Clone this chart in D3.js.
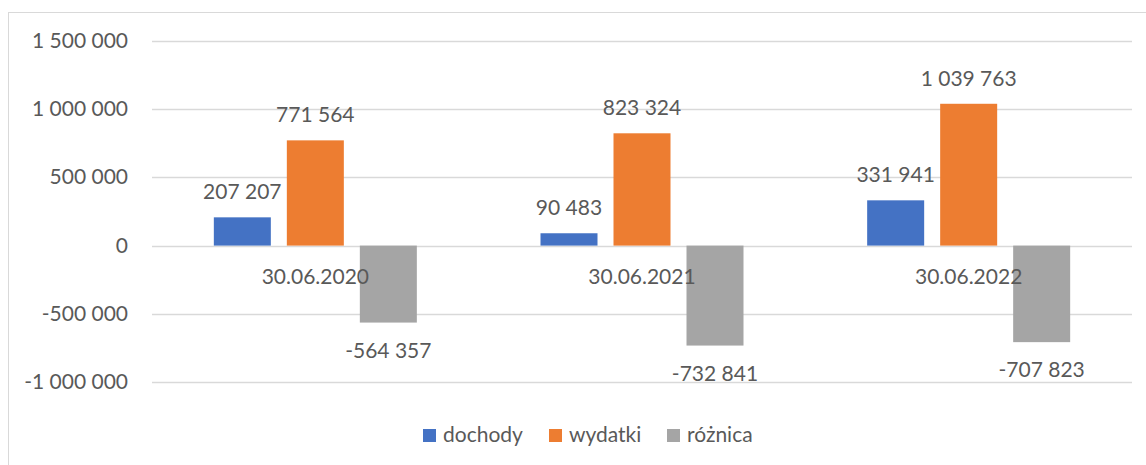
<!DOCTYPE html>
<html>
<head>
<meta charset="utf-8">
<script src="https://cdn.jsdelivr.net/npm/d3@7"></script>
<style>
  html, body { margin: 0; padding: 0; background: #fff; }
  svg { display: block; font-family: Lato, "Open Sans", sans-serif; }
</style>
</head>
<body>
<svg id="chart" width="1146" height="465"></svg>
<script>
const categories = ["30.06.2020", "30.06.2021", "30.06.2022"];
const seriesNames = ["dochody", "wydatki", "różnica"];
const dochody = [207207, 90483, 331941];
const wydatki = [771564, 823324, 1039763];
const roznica = [-564357, -732841, -707823];
const yTicks = [-1000000, -500000, 0, 500000, 1000000, 1500000];
const colors = ["#4472C4", "#ED7D31", "#A5A5A5"];

const seriesValues = [dochody, wydatki, roznica];
const data = categories.map((c, i) => ({
  cat: c,
  vals: seriesNames.map((s, j) => ({ series: s, value: seriesValues[j][i], color: colors[j] }))
}));

const loc = d3.formatLocale({ decimal: ",", thousands: " ", grouping: [3], currency: ["", ""], minus: "-" });
const fmt = loc.format(",d");

const svg = d3.select("#chart");
const textColor = "#595959";
const fontSize = 21;

// Border
svg.append("rect").attr("x", 8.5).attr("y", 12.5).attr("width", 1160).attr("height", 470)
  .attr("fill", "#fff").attr("stroke", "#D9D9D9").attr("stroke-width", 1);

const x0 = d3.scaleBand().domain(categories).range([152, 1132]).padding(0);
const x1 = d3.scaleBand().domain(seriesNames).range([0, x0.bandwidth()])
  .paddingInner(16 / 73).paddingOuter(0.847);
const y = d3.scaleLinear().domain([-1000000, 1500000]).range([382, 41]);

// Gridlines
svg.append("g").selectAll("line").data(yTicks).join("line")
  .attr("x1", 152).attr("x2", 1132)
  .attr("y1", d => Math.round(y(d)) + 0.5).attr("y2", d => Math.round(y(d)) + 0.5)
  .attr("stroke", "#D9D9D9").attr("stroke-width", 1.3);

// Y axis labels
svg.append("g").selectAll("text").data(yTicks).join("text")
  .attr("x", 128).attr("y", d => y(d) + 7)
  .attr("text-anchor", "end").attr("font-size", fontSize).attr("fill", textColor)
  .text(d => fmt(d));

// Bars
const groups = svg.append("g").selectAll("g").data(data).join("g")
  .attr("transform", d => `translate(${x0(d.cat)},0)`);

groups.selectAll("rect").data(d => d.vals).join("rect")
  .attr("x", d => x1(d.series))
  .attr("width", x1.bandwidth())
  .attr("y", d => y(Math.max(0, d.value)))
  .attr("height", d => Math.abs(y(d.value) - y(0)))
  .attr("fill", d => d.color);

// Category labels (drawn over bars)
svg.append("g").selectAll("text").data(categories).join("text")
  .attr("x", d => x0(d) + x0.bandwidth() / 2).attr("y", y(0) + 38)
  .attr("text-anchor", "middle").attr("font-size", fontSize).attr("fill", textColor)
  .text(d => d);

// Value labels
groups.selectAll("text.val").data(d => d.vals).join("text")
  .attr("class", "val")
  .attr("x", d => x1(d.series) + x1.bandwidth() / 2)
  .attr("y", d => d.value >= 0 ? y(d.value) - 18 : y(d.value) + 35)
  .attr("text-anchor", "middle").attr("font-size", fontSize).attr("fill", textColor)
  .text(d => fmt(d.value));

// Legend
const legendX = [423, 549, 667];
const leg = svg.append("g").selectAll("g").data(seriesNames).join("g")
  .attr("transform", (d, i) => `translate(${legendX[i]},429)`);
leg.append("rect").attr("width", 13).attr("height", 13).attr("fill", (d, i) => colors[i]);
leg.append("text").attr("x", 20).attr("y", 13).attr("font-size", fontSize).attr("fill", textColor)
  .text(d => d);
</script>
</body>
</html>
